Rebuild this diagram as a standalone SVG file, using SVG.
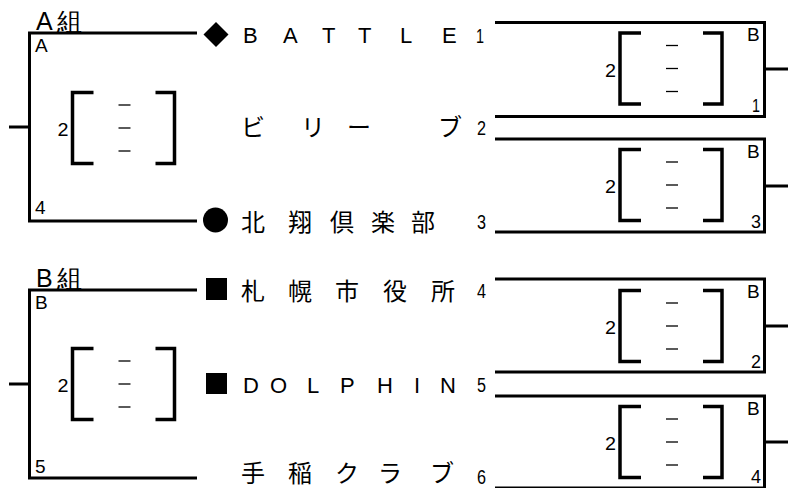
<svg xmlns="http://www.w3.org/2000/svg" width="797" height="488" viewBox="0 0 797 488">
<style>
.ln{fill:none;stroke:#000;stroke-width:3;stroke-linecap:butt;stroke-linejoin:miter}
.br{fill:none;stroke:#000;stroke-width:3.5;stroke-linejoin:miter}
.ds{stroke:#000;stroke-width:1.3}
.lat{font-family:"Liberation Sans",Arial,sans-serif;fill:#000}
.jp{font-family:"Noto Sans CJK JP","Noto Sans CJK SC",sans-serif;fill:#000;font-size:24px}
.team{font-size:22px}
.num{font-family:"Liberation Sans",Arial,sans-serif;font-size:20px;fill:#000}
.sm{font-family:"Liberation Sans",Arial,sans-serif;font-size:19px;fill:#000}
</style>
<defs>
<g id="score">
<path class="br" d="M21,-35.5 H0 V35.5 H21"/>
<path class="br" d="M83,-35.5 H102 V35.5 H83"/>
<line class="ds" x1="46" y1="-23" x2="58" y2="-23"/>
<line class="ds" x1="46" y1="0" x2="58" y2="0"/>
<line class="ds" x1="46" y1="23" x2="58" y2="23"/>
<text class="sm" x="-15" y="8" font-size="22" textLength="11" lengthAdjust="spacingAndGlyphs">2</text>
</g>
</defs>
<g id="connectors">
<path class="ln" d="M197,33 H29.5 V221 H197"/>
<path class="ln" d="M9,127 H29.5"/>
<path class="ln" d="M197,290 H29.5 V478 H197"/>
<path class="ln" d="M9,384 H29.5"/>
<path class="ln" d="M495,22.5 H764.5 V116.5 H495"/>
<path class="ln" d="M764.5,69 H788"/>
<path class="ln" d="M495,139 H764.5 V232 H495"/>
<path class="ln" d="M764.5,186 H788"/>
<path class="ln" d="M495,279 H764.5 V372 H495"/>
<path class="ln" d="M764.5,326 H788"/>
<path class="ln" d="M495,396 H764.5 V488 H495"/>
<path class="ln" d="M764.5,442 H788"/>
</g>
<g id="groupA">
<text class="lat" x="36 57" y="30" font-size="25">A組</text>
<text class="sm" x="35" y="52">A</text>
<text class="sm" x="35" y="214">4</text>
<use href="#score" x="72.5" y="128"/>
</g>
<g id="groupB">
<text class="lat" x="36 57" y="287" font-size="25">B組</text>
<text class="sm" x="35" y="309">B</text>
<text class="sm" x="35" y="473">5</text>
<use href="#score" x="72.5" y="384"/>
</g>
<g id="team1">
<path d="M216,22 L228.5,34.5 L216,47 L203.5,34.5 Z" fill="#000"/>
<text class="lat team" x="243 283 322 358 400 442" y="43">BATTLE</text>
<text class="num" x="476" y="43" textLength="8" lengthAdjust="spacingAndGlyphs">1</text>
</g>
<g id="team2">
<text class="jp" x="241 301 347 438" y="136">ビリーブ</text>
<text class="num" x="477" y="135" textLength="9" lengthAdjust="spacingAndGlyphs">2</text>
</g>
<g id="team3">
<circle cx="215.5" cy="220" r="12.5" fill="#000"/>
<text class="jp" x="241 288 330 371 411" y="231">北翔倶楽部</text>
<text class="num" x="477" y="229" textLength="9" lengthAdjust="spacingAndGlyphs">3</text>
</g>
<g id="team4">
<rect x="206" y="278" width="21" height="22" fill="#000"/>
<text class="jp" x="241 288 335 383 431" y="300">札幌市役所</text>
<text class="num" x="477" y="298" textLength="9" lengthAdjust="spacingAndGlyphs">4</text>
</g>
<g id="team5">
<rect x="206" y="373" width="21" height="21" fill="#000"/>
<text class="lat team" x="243 270 307 340 377 414 440" y="393">DOLPHIN</text>
<text class="num" x="477" y="392" textLength="9" lengthAdjust="spacingAndGlyphs">5</text>
</g>
<g id="team6">
<text class="jp" x="241 288 335 378 430" y="482">手稲クラブ</text>
<text class="num" x="477" y="484" textLength="9" lengthAdjust="spacingAndGlyphs">6</text>
</g>
<g id="match1">
<use href="#score" x="620" y="68.5"/>
<text class="sm" x="747" y="41">B</text>
<text class="sm" x="752" y="112" textLength="8" lengthAdjust="spacingAndGlyphs">1</text>
</g>
<g id="match2">
<use href="#score" x="620" y="185"/>
<text class="sm" x="747" y="158">B</text>
<text class="sm" x="751" y="228" textLength="10" lengthAdjust="spacingAndGlyphs">3</text>
</g>
<g id="match3">
<use href="#score" x="620" y="326"/>
<text class="sm" x="747" y="298">B</text>
<text class="sm" x="751" y="368" textLength="10" lengthAdjust="spacingAndGlyphs">2</text>
</g>
<g id="match4">
<use href="#score" x="620" y="442"/>
<text class="sm" x="747" y="415">B</text>
<text class="sm" x="751" y="483" textLength="10" lengthAdjust="spacingAndGlyphs">4</text>
</g>
</svg>
